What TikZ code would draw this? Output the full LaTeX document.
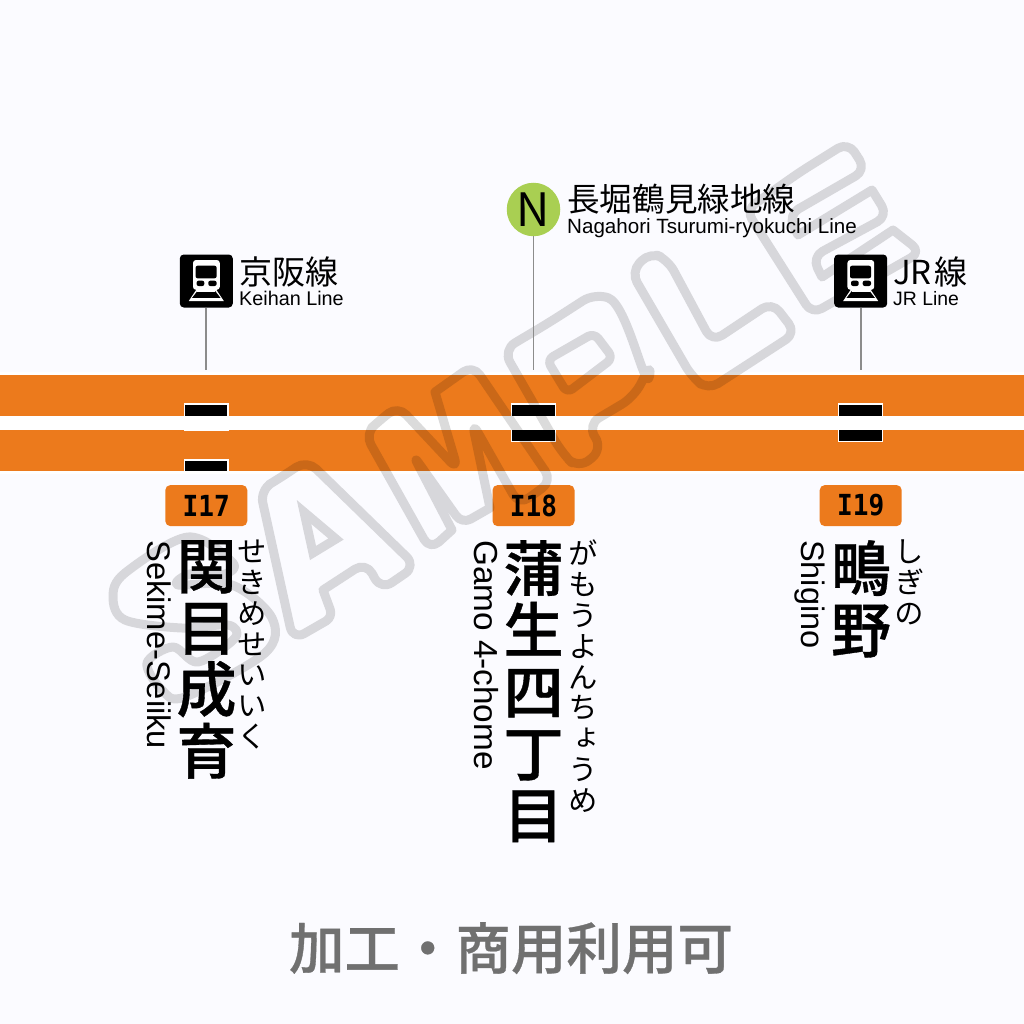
\documentclass[tikz,border=0pt]{standalone}
\usepackage{fontspec}
\setmainfont{Liberation Sans}
\newfontfamily\jp{Noto Sans CJK JP}
\newfontfamily\jpm[FakeBold=0.6]{Noto Sans CJK JP Medium}
\newfontfamily\jpv[RawFeature=+vert]{Noto Sans CJK JP}
\newfontfamily\badgefont[FakeStretch=0.9]{DejaVu Sans Mono}
\definecolor{bgc}{HTML}{FBFBFF}
\definecolor{linec}{HTML}{EC7A1C}
\definecolor{greenc}{HTML}{A9CF52}
\definecolor{leadc}{HTML}{8C8C8C}
\definecolor{capc}{HTML}{707070}
\newcommand{\fs}[1]{\fontsize{#1}{#1}\selectfont}
\tikzset{
  x=1pt,y=-1pt,
  bar/.style={fill=linec,draw=none},
  stopbox/.style={fill=black,draw=white,line width=1.3pt},
  badge/.style={fill=linec,draw=none,rounded corners=5pt,minimum width=82pt,minimum height=41pt,inner sep=0pt,font=\badgefont\bfseries\fs{29}},
  icon/.style={fill=black,draw=none,rounded corners=4pt,minimum size=53pt,inner sep=0pt},
  lead/.style={draw=leadc,line width=1.9pt},
  wm/.style={draw=black,draw opacity=.14,line width=9pt,line join=round},
  jname/.style={anchor=base west,inner sep=0pt,font=\jp\fs{33}},
  ename/.style={anchor=base west,inner sep=0pt},
  kanji/.style={anchor=north,inner sep=0pt,align=center,font=\jpm\fontsize{60}{61.7}\selectfont},
  kana/.style={anchor=north,inner sep=0pt,align=center,font=\jpv\fontsize{29.5}{30.8}\selectfont},
  roman/.style={anchor=base west,inner sep=0pt,rotate=-90},
  trainicon/.pic={
    \fill[white,rounded corners=3pt] (-13.3,-21) rectangle (13.5,8.8);
    \fill[black,rounded corners=2pt] (-10.7,-15.3) rectangle (10.3,-2.7);
    \fill[black,rounded corners=2pt] (-9.7,-.3) rectangle (-2,5);
    \fill[black,rounded corners=2pt] (2,-.3) rectangle (10.3,5);
    \fill[white] (-9.5,8) -- (-7.5,8) -- (-14.5,17) -- (14.5,17) -- (7.5,8) -- (9.5,8) -- (17.5,20) -- (-17.5,20) -- cycle;
    \fill[white] (-9,8) rectangle (9,11);
    \fill[black] (-6.2,11) -- (6.2,11) -- (8.2,15) -- (-8.2,15) -- cycle;
  }
}
\begin{document}
\begin{tikzpicture}
\useasboundingbox (0,0) rectangle (1024,1024);
\fill[bgc] (0,0) rectangle (1024,1024);
\fill[white] (0,372) rectangle (1024,474);
\path[bar] (0,374.7) rectangle (1024,415.5);
\path[bar] (0,430.3) rectangle (1024,470.8);
% station marks
\path[stopbox] (184.6,404) rectangle (228,430);
\fill[white] (183.9,415.5) rectangle (228.7,430.3);
\path[stopbox] (184.6,460) rectangle (228,480);
\fill[bgc] (183,471) rectangle (230,484);
\fill[white] (183,471) rectangle (230,474);
\path[stopbox] (511.8,404) rectangle (555.8,441.5);
\fill[white] (511.2,415.5) rectangle (556.4,430.3);
\path[stopbox] (838.8,404) rectangle (882.4,441.5);
\fill[white] (838.2,415.5) rectangle (883,430.3);
% badges
\node[badge] (b17) at (206.3,505.6) {I17};
\node[badge] (b18) at (533.5,505.6) {I18};
\node[badge] (b19) at (860.7,505.6) {I19};
% watermark S
\path[wm] plot[smooth cycle,tension=.55] coordinates {
 (233,563) (222,575) (190,574) (178,585) (232,585) (272,618) (265,653) (185,697)
 (162,690) (147,663) (173,647) (198,662) (235,638) (228,625) (182,628) (125,620)
 (113,597) (125,573) (188,537)};
% A
\path[wm,rounded corners=13pt] (280,478) -- (307,460) -- (416,566) -- (381,590) -- (366,562) [sharp corners] -- (323,590) [rounded corners=8pt] -- (333,617) [rounded corners=13pt] -- (293,640) -- (260,490) -- cycle;
\path[wm,line join=miter] (304,512) -- (336,539) -- (313,553) -- cycle;
% M
\path[wm,rounded corners=12pt] (380,420) -- (398,406) -- (458,470) [sharp corners] -- (435,392) [rounded corners=12pt] -- (473,365) -- (552,481) -- (519,505) -- (472,422) [sharp corners] -- (490,508) [rounded corners=10pt] -- (462,524) -- (413,455) [sharp corners] -- (452,530) [rounded corners=12pt] -- (430,550) -- (365,434) -- cycle;
% P
\path[wm,rounded corners=14pt] (550,322) -- (595,293) to[out=-20,in=-100] (652,362) -- (634,397) -- (587,425) -- (603,449) -- (578,469) -- (562,453) -- (503,350) -- cycle;
\path[wm,rounded corners=7pt] (547,360) -- (594,333) -- (613,358) -- (567,393) -- cycle;
% L
\path[wm,rounded corners=12pt] (650,252) -- (668,260) -- (712,342) -- (772,302) -- (796,333) -- (708,390) -- (692,377) -- (631,272) -- cycle;
% E
\path[wm,rounded corners=12pt] (800,172) -- (848,142) -- (866,170) -- (788,215) [sharp corners] -- (798,235) -- (872,190) [rounded corners=12pt] -- (888,216) -- (812,257) [sharp corners] -- (822,277) -- (893,230) [rounded corners=11pt] -- (921,252) -- (812,314) -- (746,210) -- cycle;
% leaders and line icons
\node[icon] (keihan) at (206.3,281) {};
\pic at (206.3,281) {trainicon};
\node[icon] (jr) at (860.7,281) {};
\pic at (860.7,281) {trainicon};
\node[circle,fill=greenc,inner sep=0pt,minimum size=53.5pt,text height=33pt,text depth=0pt,font=\jp\fs{46}] (nline) at (533.5,209.5) {N};
\coordinate (k0) at (206.3,369.5);
\coordinate (n0) at (533.5,369.5);
\coordinate (j0) at (860.7,369.5);
\draw[lead] (keihan.south) -- (k0);
\draw[lead] (nline.south) -- (n0);
\draw[lead] (jr.south) -- (j0);
% line names
\node[jname] (t1) at (239,284) {京阪線};
\node[ename,font=\fs{19.8}] (t2) at (239,305) {Keihan Line};
\node[jname,font=\jp\fs{32.6}] (t3) at (567,212) {長堀鶴見緑地線};
\node[ename,font=\fs{20.6}] (t4) at (567,233.5) {Nagahori Tsurumi-ryokuchi Line};
\node[jname] (t5) at (893,284) {JR\hspace{3pt}線};
\node[ename,font=\fs{19.4}] (t6) at (893,305) {JR Line};
% station names
\node[kanji] (s17) at (206.5,540) {関\\目\\成\\育};
\node[kana] (k17) at (252,540) {せ\\き\\め\\せ\\い\\い\\く};
\node[roman,font=\fs{32.7}] (r17) at (147,540) {Sekime-Seiiku};
\node[kanji] (s18) at (533.5,540) {蒲\\生\\四\\丁\\目};
\node[kana] (k18) at (583,540) {が\\も\\う\\よ\\ん\\ち\\ょ\\う\\め};
\node[roman,font=\fs{33.3}] (r18) at (474,540) {Gamo 4-chome};
\node[kanji] (s19) at (861,540) {鴫\\野};
\node[kana] (k19) at (909,540) {し\\ぎ\\の};
\node[roman,font=\fs{32.5}] (r19) at (801,540) {Shigino};
% caption
\node[anchor=base,inner sep=0pt,text=capc,font=\jpm\fs{55.5}] (cap) at (511,969) {加工・商用利用可};
\end{tikzpicture}
\end{document}
